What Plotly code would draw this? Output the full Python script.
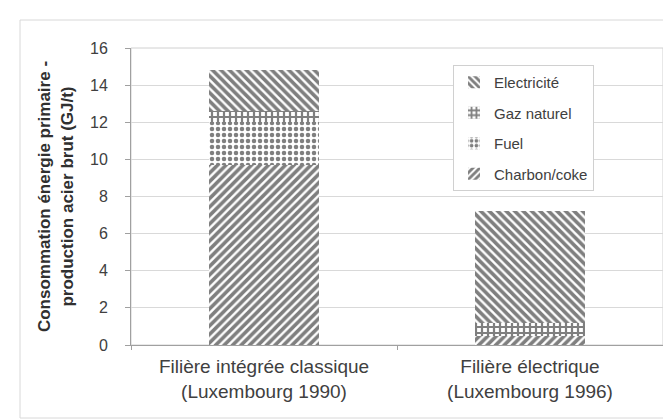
import plotly.graph_objects as go

categories = ["Filière intégrée classique<br>(Luxembourg 1990)",
              "Filière électrique<br>(Luxembourg 1996)"]
charbon = [9.7, 0.5]
fuel = [2.3, 0.0]
gaz = [0.6, 0.7]
elec = [2.2, 6.0]
yticks = [0, 2, 4, 6, 8, 10, 12, 14, 16]

series = [
    ("Charbon/coke", charbon, "/", 4),
    ("Fuel", fuel, ".", 3),
    ("Gaz naturel", gaz, "+", 2),
    ("Electricité", elec, "\\", 1),
]

fig = go.Figure()
for i, (name, vals, shape, rank) in enumerate(series):
    fig.add_trace(go.Bar(
        x=categories, y=vals, name=name, legendgroup=f"g{i}", legendrank=rank,
        marker=dict(color="white", line=dict(width=0),
                    pattern=dict(shape=shape, fgcolor="black", bgcolor="white",
                                 size=6, solidity=0.6 if shape != "." else 0.45)),
    ))

L, R, T, B = 123, 16, 40, 82
W, H = 671, 419
pw = W - L - R
ph = H - T - B

fig.update_layout(
    width=W, height=H,
    margin=dict(l=L, r=R, t=T, b=B),
    barmode="stack", bargap=0.59,
    plot_bgcolor="white", paper_bgcolor="white",
    font=dict(family="Liberation Sans, Arial", size=15, color="#404040"),
    showlegend=True,
    legend=dict(
        x=(445 - L) / pw, y=(337 - 57) / ph, xanchor="left", yanchor="top",
        traceorder="grouped", tracegroupgap=8,
        bordercolor="#d0d0d0", borderwidth=1, bgcolor="white",
        font=dict(size=15, color="#404040"),
    ),
    xaxis=dict(
        showline=True, linecolor="#a0a0a0", linewidth=1,
        ticks="outside", tickson="boundaries", ticklen=4, tickcolor="#a0a0a0",
        tickfont=dict(size=19, color="#404040"), ticklabelstandoff=4,
    ),
    yaxis=dict(
        range=[0, 16], tickvals=yticks, ticktext=[str(v) for v in yticks],
        showline=True, linecolor="#a0a0a0", linewidth=1,
        ticks="outside", ticklen=5, tickcolor="#a0a0a0",
        gridcolor="#d9d9d9", gridwidth=1, zeroline=False,
        tickfont=dict(size=16, color="#404040"), ticklabelstandoff=14,
        title=dict(text="<b>Consommation énergie primaire -<br>production acier brut (GJ/t)</b>",
                   font=dict(size=17, color="#303030"), standoff=12),
    ),
    shapes=[
        dict(type="rect", xref="paper", yref="paper", x0=0, x1=1, y0=0, y1=1,
             line=dict(color="#d0d0d0", width=1), layer="below"),
        dict(type="rect", xref="paper", yref="paper",
             x0=(12 - L) / pw, x1=(664 - L) / pw,
             y0=(337 - 410) / ph, y1=(337 - 12) / ph,
             line=dict(color="#d8d8d8", width=1)),
    ],
)

fig.write_html("out.html")
